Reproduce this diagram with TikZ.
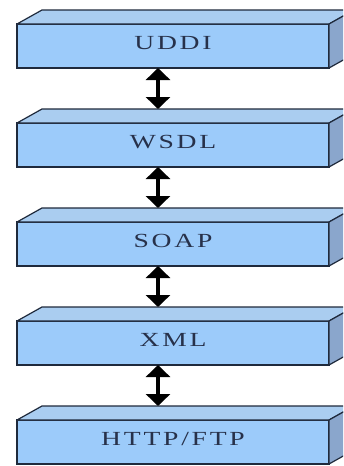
\documentclass[tikz,border=0pt]{standalone}
\usepackage{fontspec}
\newfontfamily\layerfont[LetterSpace=10]{Liberation Serif}
\usetikzlibrary{positioning,arrows.meta}

\definecolor{frontblue}{HTML}{9CCBFA}
\definecolor{topblue}{HTML}{AACDF0}
\definecolor{sideblue}{HTML}{8AA6CC}
\definecolor{edgecolor}{HTML}{1F2A3C}
\definecolor{labelcolor}{HTML}{27314A}

\newcommand{\layertext}[1]{\scalebox{1.38}[1]{\fontsize{20pt}{20pt}\layerfont #1}}

\tikzset{
    layer/.style={draw=edgecolor, fill=frontblue, line width=1.2pt,
        minimum width=312pt, minimum height=44pt, inner sep=0pt, outer sep=0pt,
        text=labelcolor, text height=13pt, text depth=6pt},
    face/.style={draw=edgecolor, line width=1.2pt, line join=round},
    updown/.style={{Triangle[width=24pt,length=12pt]}-{Triangle[width=24pt,length=12pt]},
        line width=4pt, black}
}

\begin{document}
\begin{tikzpicture}[x=1pt, y=-1pt, node distance=55pt]

    \clip (0,0) rectangle (343,466);
    \fill[white] (0,0) rectangle (343,466);

    % protocol stack
    \node[layer] (uddi) at (173,46) {\layertext{UDDI}};
    \node[layer, below=of uddi] (wsdl) {\layertext{WSDL}};
    \node[layer, below=of wsdl] (soap) {\layertext{SOAP}};
    \node[layer, below=of soap] (xml)  {\layertext{XML}};
    \node[layer, below=of xml]  (http) {\layertext{HTTP/FTP}};

    % top and side faces
    \foreach \n in {uddi,wsdl,soap,xml,http} {
        \filldraw[face, fill=topblue] (\n.north west) -- ++(25,-14)
            -- ([shift={(25,-14)}]\n.north east) -- (\n.north east) -- cycle;
        \filldraw[face, fill=sideblue] (\n.north east) -- ++(25,-14)
            -- ([shift={(25,-14)}]\n.south east) -- (\n.south east) -- cycle;
    }

    % arrows between layers
    \foreach \a/\b in {uddi/wsdl,wsdl/soap,soap/xml,xml/http}
        \draw[updown] ([xshift=-15pt]\a.south) -- ([xshift=-15pt,yshift=14pt]\b.north);
\end{tikzpicture}
\end{document}
